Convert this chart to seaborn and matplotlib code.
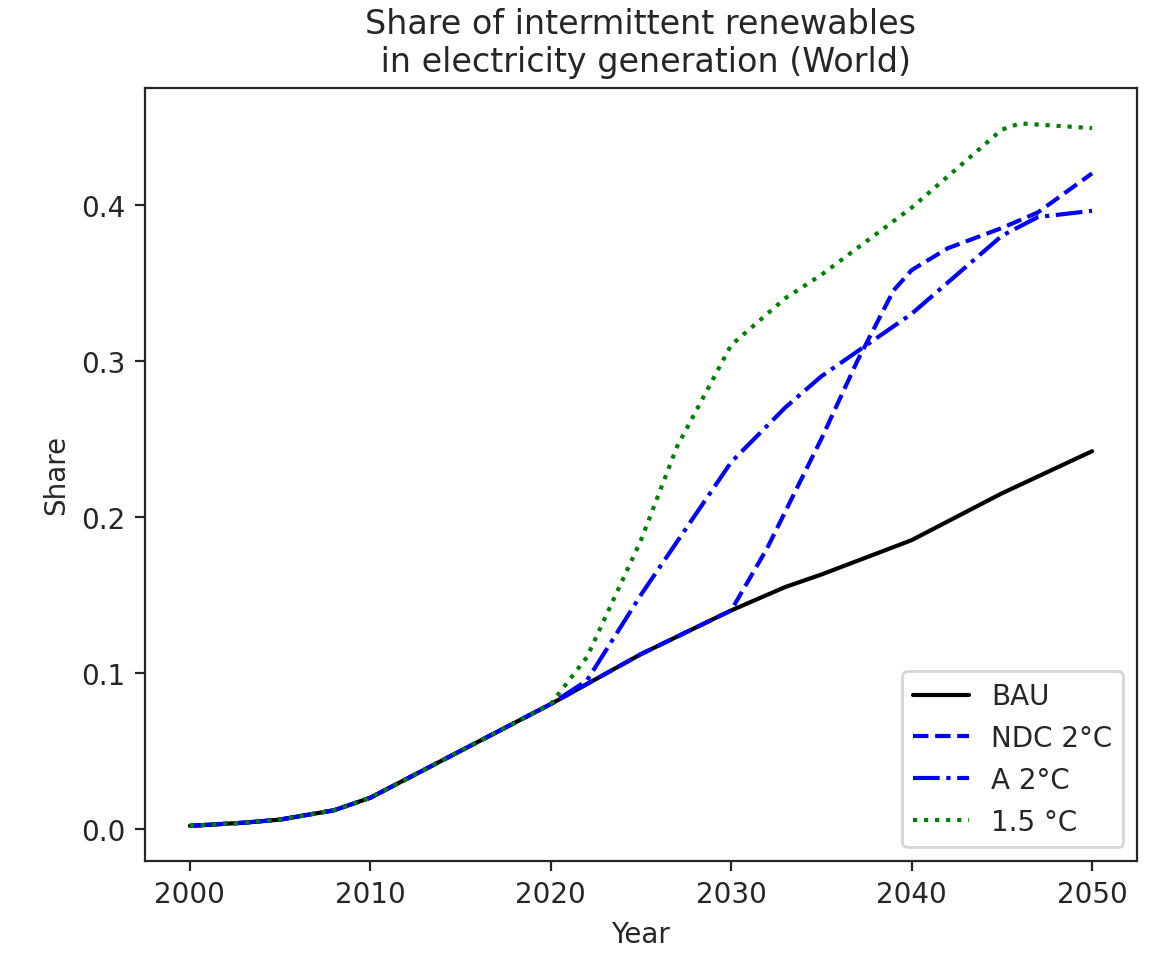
import matplotlib
matplotlib.use("Agg")
import matplotlib.pyplot as plt
import seaborn as sns
import pandas as pd

years_bau = [2000,2003,2005,2008,2010,2012,2015,2018,2020,2025,2030,2033,2035,2040,2042,2045,2050]
bau =       [0.002,0.004,0.006,0.012,0.02,0.032,0.05,0.068,0.08,0.112,0.14,0.155,0.163,0.185,0.197,0.215,0.242]
years_ndc = [2030,2032,2035,2037,2039,2040,2042,2045,2047,2050]
ndc =       [0.14,0.18,0.25,0.30,0.345,0.358,0.372,0.385,0.395,0.42]
years_a =   [2020,2022,2025,2030,2033,2035,2040,2045,2047,2050]
a2 =        [0.08,0.095,0.15,0.235,0.27,0.29,0.33,0.38,0.392,0.396]
years_15 =  [2020,2022,2025,2027,2030,2033,2035,2040,2045,2046,2050]
s15 =       [0.08,0.11,0.185,0.245,0.31,0.34,0.355,0.398,0.448,0.452,0.449]

def full(extra_years, extra_vals):
    ys = [y for y in years_bau if y < extra_years[0]] + extra_years
    vs = [v for y, v in zip(years_bau, bau) if y < extra_years[0]] + extra_vals
    return ys, vs

sns.set_style("ticks")
plt.rcParams['font.family'] = ['DejaVu Sans']
fig, ax = plt.subplots(figsize=(5.79, 4.81), dpi=200)

series = [("BAU", years_bau, bau, "black", "-"),
          ("NDC 2°C", *full(years_ndc, ndc), "blue", "--"),
          ("A 2°C", *full(years_a, a2), "blue", "-."),
          ("1.5 °C", *full(years_15, s15), "green", ":")]
for name, ys, vs, c, ls in series:
    df = pd.DataFrame({"Year": ys, "Share": vs})
    sns.lineplot(data=df, x="Year", y="Share", color=c, linestyle=ls, label=name, ax=ax, linewidth=1.5)

ax.set_xlim(1997.5, 2052.5)
ax.set_ylim(-0.0205, 0.475)
ax.set_yticks([0.0, 0.1, 0.2, 0.3, 0.4])
ax.set_xticks([2000, 2010, 2020, 2030, 2040, 2050])
ax.set_title("Share of intermittent renewables\n in electricity generation (World)")
ax.legend(loc="lower right", fontsize=10)
fig.subplots_adjust(left=0.125, right=0.982, top=0.908, bottom=0.104)
fig.savefig("out.png", dpi=200)
